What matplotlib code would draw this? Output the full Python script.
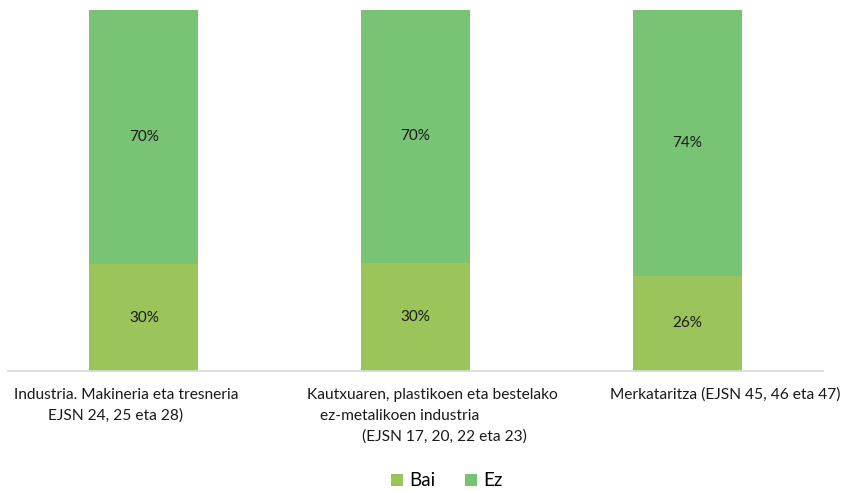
import numpy as np
import matplotlib.pyplot as plt

# data
categories = ["Industria. Makineria eta tresneria", "Kautxuaren, plastikoen eta bestelako",
              "Merkataritza (EJSN 45, 46 eta 47)"]
bai = [29.6, 30.0, 26.4]
ez = [70.4, 70.0, 73.6]
series_names = ["Bai", "Ez"]

# label lines as they sit under each bar: (text, x pixel center, y pixel center)
label_lines = [
    ("Industria. Makineria eta tresneria", 126, 395),
    ("EJSN 24, 25 eta 28)", 116, 416),
    ("Kautxuaren, plastikoen eta bestelako", 432, 395),
    ("ez-metalikoen industria", 400, 416),
    ("(EJSN 17, 20, 22 eta 23)", 444, 437),
    ("Merkataritza (EJSN 45, 46 eta 47)", 725, 395),
]

plt.rcParams['font.family'] = ['Lato', 'DejaVu Sans']

W, H = 845, 491
fig = plt.figure(figsize=(W / 100, H / 100), dpi=100)
ax = fig.add_axes([8 / W, 1 - 371 / H, 815 / W, 361 / H])

colors = ['#9BC45A', '#79C374']
x = np.arange(len(categories))
b1 = ax.bar(x, bai, width=0.4, color=colors[0], label=series_names[0])
b2 = ax.bar(x, ez, width=0.4, bottom=bai, color=colors[1], label=series_names[1])

for bars, vals, base in [(b1, bai, [0] * 3), (b2, ez, bai)]:
    for r, v, b in zip(bars, vals, base):
        ax.text(r.get_x() + r.get_width() / 2, b + v / 2, f"{round(v)}%",
                ha='center', va='center', fontsize=11, color='#1a1a1a')

ax.set_xlim(-0.5, 2.5)
ax.set_ylim(0, 100)
ax.set_xticks([])
ax.set_yticks([])
for s in ['top', 'right', 'left']:
    ax.spines[s].set_visible(False)
ax.spines['bottom'].set_color('#d9d9d9')
ax.spines['bottom'].set_linewidth(1.2)

for txt, px, py in label_lines:
    fig.text(px / W, 1 - py / H, txt, ha='center', va='center', fontsize=11.2, color='#1a1a1a')

fig.legend(handles=[b1, b2], labels=series_names, loc='center', bbox_to_anchor=(447 / W, 1 - 481 / H),
           ncol=2, frameon=False, fontsize=13.5, handlelength=0.6, handleheight=0.6,
           handletextpad=0.35, columnspacing=1.6)

fig.savefig("out.png", dpi=100)
